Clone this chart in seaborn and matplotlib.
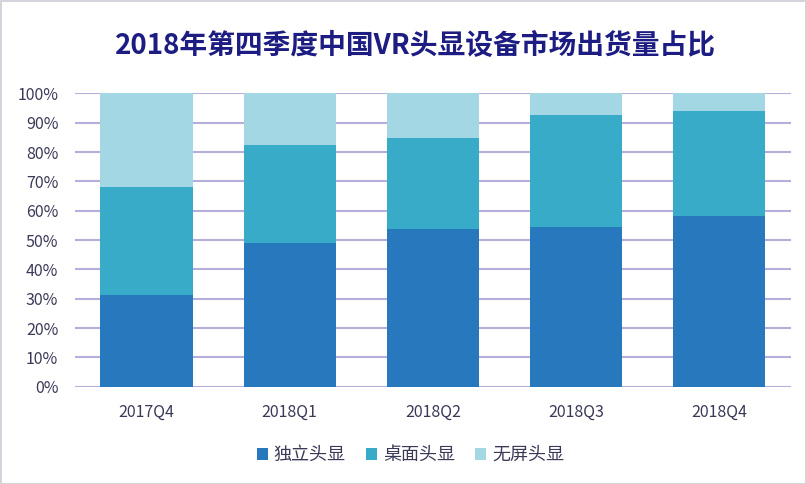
import pandas as pd
import matplotlib
matplotlib.use('Agg')
import matplotlib.pyplot as plt
import seaborn as sns
import numpy as np

quarters = ['2017Q4', '2018Q1', '2018Q2', '2018Q3', '2018Q4']
standalone = [31.3, 48.9, 53.7, 54.5, 58.3]   # 独立头显
tethered = [36.9, 33.4, 31.2, 38.1, 35.8]     # 桌面头显
screenless = [31.8, 17.7, 15.1, 7.4, 5.9]     # 无屏头显
series_names = ['独立头显', '桌面头显', '无屏头显']
colors = ['#2878bd', '#37abc8', '#a2d7e3']

sns.set_theme(style='white')
plt.rcParams['font.family'] = ['Noto Sans CJK SC', 'DejaVu Sans']

df = pd.DataFrame({'quarter': quarters,
                   series_names[0]: standalone,
                   series_names[1]: tethered,
                   series_names[2]: screenless})
# cumulative tops for stacking
cum = df[series_names].cumsum(axis=1)

fig = plt.figure(figsize=(8.06, 4.84), dpi=100)
fig.patch.set_facecolor('white')
fig.patch.set_edgecolor('#d4d4dc')
fig.patch.set_linewidth(2)
ax = fig.add_axes([0.093, 0.201, 0.888, 0.606])

for y in range(0, 101, 10):
    ax.axhline(y, color='#b5aedb', linewidth=1.5, zorder=0)

# draw from top layer down so lower layers cover upper ones
for name, col in zip(series_names[::-1], colors[::-1]):
    sns.barplot(x=df['quarter'], y=cum[name], color=col, width=0.645,
                saturation=1, linewidth=0, ax=ax, zorder=2, label=name)

ax.set_xlim(-0.5, 4.5)
ax.set_ylim(0, 100)
ax.set_yticks(range(0, 101, 10))
ax.set_yticklabels([f'{v}%' for v in range(0, 101, 10)])
ax.set_xlabel('')
ax.set_ylabel('')
ax.tick_params(axis='both', length=0, labelsize=11.5, labelcolor='#3a3a58')
ax.tick_params(axis='y', pad=12)
ax.tick_params(axis='x', pad=12)
sns.despine(ax=ax, left=True, bottom=True)
if ax.legend_:
    ax.legend_.remove()

handles, labels = ax.get_legend_handles_labels()
order = [labels.index(n) for n in series_names]
fig.legend([handles[i] for i in order], series_names, loc='center',
           bbox_to_anchor=(0.509, 0.06), ncol=3, frameon=False,
           handlelength=0.65, handleheight=0.65, handletextpad=0.3,
           columnspacing=1.1, fontsize=13, labelcolor='#3a3a58')

fig.text(0.515, 0.905, '2018年第四季度中国VR头显设备市场出货量占比',
         ha='center', va='center', fontsize=20, fontweight='bold',
         color='#1c1c82')

fig.savefig('out.png', dpi=100, facecolor=fig.get_facecolor(),
            edgecolor=fig.get_edgecolor())
